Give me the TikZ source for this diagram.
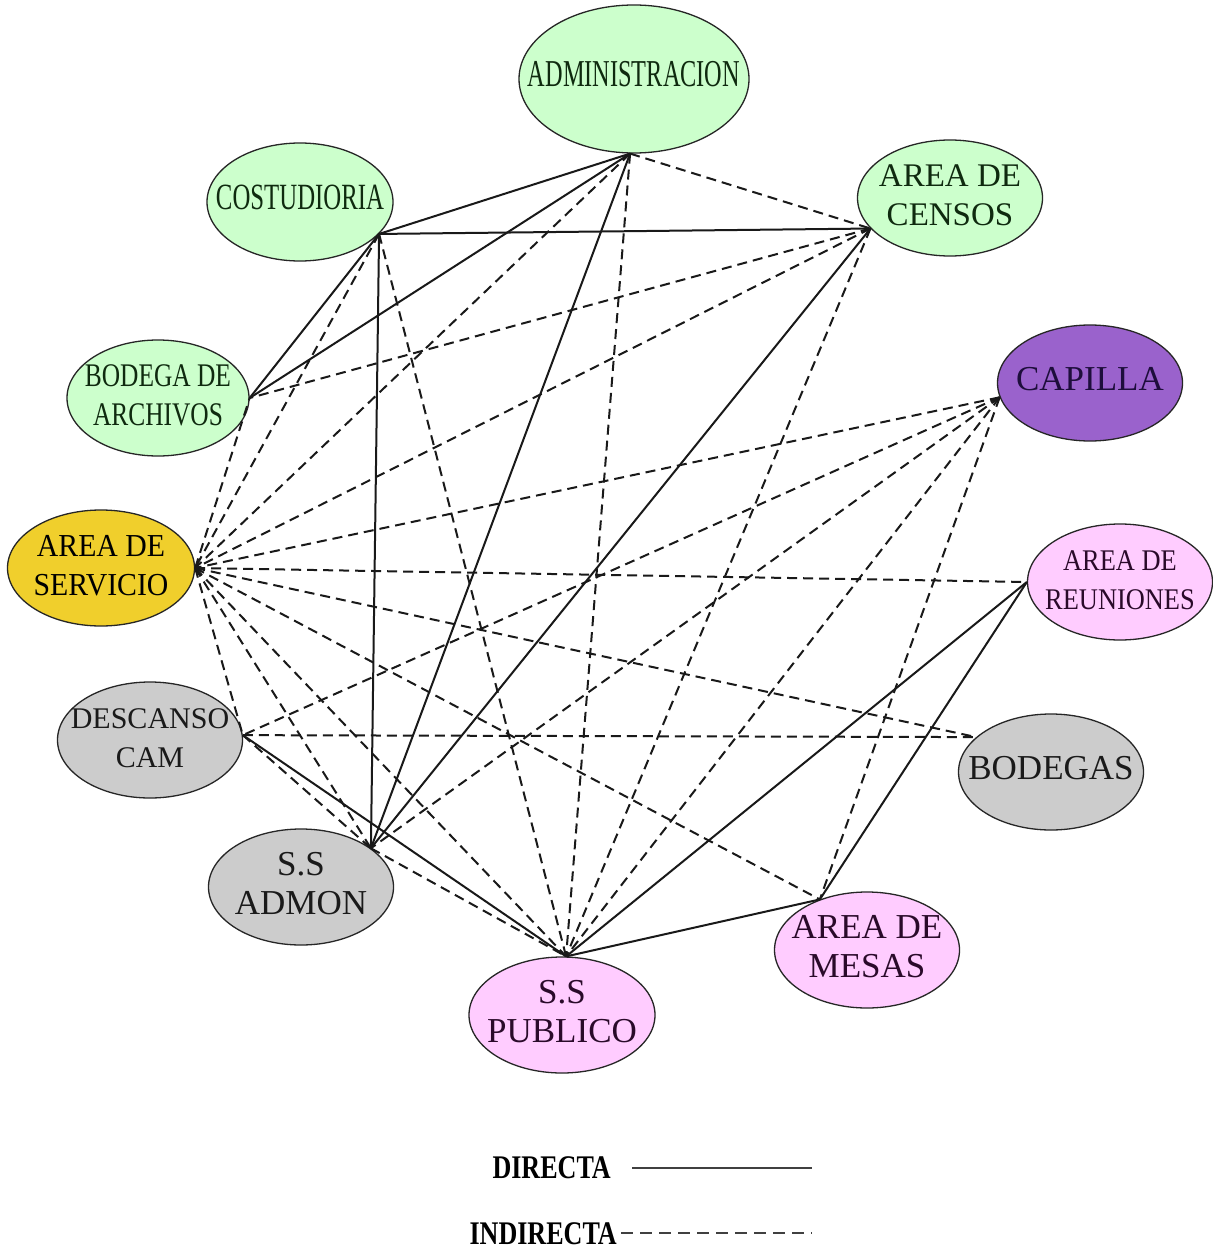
\documentclass[tikz,border=0pt]{standalone}
\usepackage{fontspec}
\usepackage{graphicx}
\setmainfont{Liberation Serif}
\usetikzlibrary{shapes.geometric}
\definecolor{gfill}{HTML}{CCFFCC}
\definecolor{gtext}{HTML}{0F2A0F}
\definecolor{pfill}{HTML}{9A62CC}
\definecolor{ptext}{HTML}{1E0E3C}
\definecolor{yfill}{HTML}{F0CF2C}
\definecolor{kfill}{HTML}{FFCCFF}
\definecolor{ktext}{HTML}{2A0A2A}
\definecolor{sfill}{HTML}{CCCCCC}
\definecolor{stext}{HTML}{1A1A1A}
\newcommand{\fs}[1]{\fontsize{#1}{39}\selectfont}
\newcommand{\sx}[2]{\scalebox{#1}[1]{#2}}
\newcommand{\tl}[1]{\makebox[0pt]{\begin{tabular}{@{}c@{}}#1\end{tabular}}}
\begin{document}
\begin{tikzpicture}[x=1pt,y=-1pt,
  nd/.style={ellipse, draw=black!85, line width=1.3pt, inner sep=0pt,
             minimum width=185pt, minimum height=116pt},
  dir/.style={line width=2pt, black!90},
  ind/.style={line width=2pt, black!90, dash pattern=on 10pt off 6pt},
  lgtext/.style={anchor=east, inner sep=0pt, font=\fs{33}\bfseries},
]
\useasboundingbox (0,0) rectangle (1212,1252);
\fill[white] (0,0) rectangle (1212,1252);

% nodes
\node[nd, fill=gfill, text=gtext, minimum width=230pt, minimum height=148pt, font=\fs{38}] (adm) at (634,79) {\tl{\sx{.64}{ADMINISTRACION}}};
\node[nd, fill=gfill, text=gtext, minimum width=186pt, minimum height=118pt, font=\fs{37}] (cos) at (300,202) {\tl{\sx{.67}{COSTUDIORIA}}};
\node[nd, fill=gfill, text=gtext, font=\fs{33}] (cen) at (950,198) {\tl{AREA DE\\CENSOS}};
\node[nd, fill=gfill, text=gtext, minimum width=182pt, font=\fs{33}] (bar) at (158,398) {\tl{\sx{.77}{BODEGA DE}\\\sx{.77}{ARCHIVOS}}};
\node[nd, fill=pfill, text=ptext, font=\fs{35}] (cap) at (1090,383) {\tl{CAPILLA}};
\node[nd, fill=yfill, text=black, minimum width=187pt, font=\fs{32}] (ser) at (101,568) {\tl{\sx{.93}{AREA DE}\\\sx{.93}{SERVICIO}}};
\node[nd, fill=kfill, text=ktext, font=\fs{30}] (reu) at (1120,582) {\tl{\sx{.88}{AREA DE}\\\sx{.88}{REUNIONES}}};
\node[nd, fill=sfill, text=stext, font=\fs{30}] (des) at (150,740) {\tl{DESCANSO\\CAM}};
\node[nd, fill=sfill, text=stext, font=\fs{35}] (bdg) at (1051,772) {\tl{BODEGAS}};
\node[nd, fill=sfill, text=stext, font=\fs{35}] (ssa) at (301,887) {\tl{S.S\\ADMON}};
\node[nd, fill=kfill, text=ktext, font=\fs{35}] (mes) at (867,950) {\tl{AREA DE\\MESAS}};
\node[nd, fill=kfill, text=ktext, minimum width=186pt, font=\fs{35}] (ssp) at (562,1015) {\tl{S.S\\PUBLICO}};

% direct (solid) connections
\foreach \a/\b in {adm.267/cos.-22, adm.267/bar.0, adm.267/ssa.29, cos.-22/cen.201,
                   cos.-22/bar.0, cos.-22/ssa.29, cen.201/ssa.29, reu.180/ssp.86,
                   reu.180/mes.133, mes.133/ssp.86, des.3/ssp.86}
  \draw[dir] (\a) -- (\b);

% indirect (dashed) connections
\foreach \a/\b in {adm.267/cen.201, adm.267/ser.0, adm.267/ssp.86, cos.-22/ser.0,
                   cos.-22/ssp.86, cen.201/bar.0, cen.201/ser.0, cen.201/ssp.86,
                   cap.189/ser.0, cap.189/des.3, cap.189/ssa.29, cap.189/ssp.86,
                   cap.189/mes.133, ser.0/reu.180, ser.0/bdg.155, ser.0/mes.133,
                   ser.0/ssp.86, ser.0/ssa.29, ser.0/des.3, ser.0/bar.0,
                   des.3/bdg.155, des.3/ssa.29, ssa.29/ssp.86}
  \draw[ind] (\a) -- (\b);

% legend
\node[lgtext] (ldir) at (611,1168) {\sx{.79}{DIRECTA}};
\node[lgtext] (lind) at (617,1234) {\sx{.79}{INDIRECTA}};
\coordinate (ldirA) at (632,1168);
\coordinate (ldirB) at (812,1168);
\coordinate (lindA) at (621,1233);
\coordinate (lindB) at (812,1233);
\draw[line width=1.4pt, black!75] (ldirA) -- (ldirB);
\draw[line width=1.4pt, black!75, dash pattern=on 12pt off 7pt] (lindA) -- (lindB);
\end{tikzpicture}
\end{document}
